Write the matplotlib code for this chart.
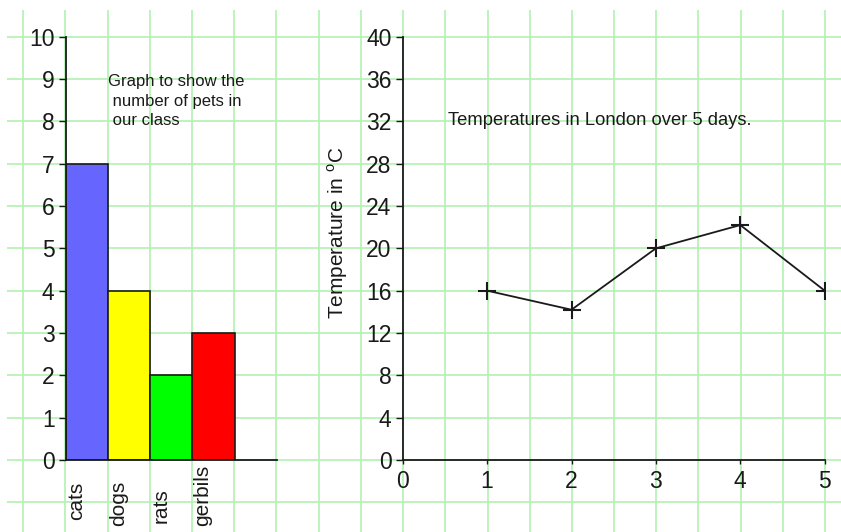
import matplotlib
matplotlib.use('Agg')
import matplotlib.pyplot as plt
import matplotlib.transforms as mtransforms
import numpy as np

plt.rcParams['font.family'] = ['Liberation Sans', 'DejaVu Sans']
plt.rcParams['mathtext.fontset'] = 'custom'
plt.rcParams['mathtext.rm'] = 'Liberation Sans'

# pets chart
pets = ['cats', 'dogs', 'rats', 'gerbils']
pet_counts = [7, 4, 2, 3]
pet_colors = ['#6666ff', '#ffff00', '#00ff00', '#ff0000']
pet_ticks = list(range(0, 11))

# temperature chart
days = [1, 2, 3, 4, 5]
temps = [16, 14.2, 20, 22.2, 16]
temp_ticks = list(range(0, 41, 4))
day_ticks = [0, 1, 2, 3, 4, 5]

W, H = 841, 532
fig = plt.figure(figsize=(W / 100, H / 100), dpi=100)

# squared paper behind everything, in pixel coords
bg = fig.add_axes([0, 0, 1, 1])
bg.set_xlim(0, W)
bg.set_ylim(H, 0)
bg.axis('off')
step_x, step_y = 42.2, 42.33
gx = 23.3 + step_x * np.arange(20)
gy = 36.7 + step_y * np.arange(12)
bg.vlines(gx, 10, H, color='#b2f1b2', lw=1.2)
bg.hlines(gy, 7, W, color='#b2f1b2', lw=1.2)

ink = '#1a1a1a'

def px_axes(x0, x1, y_top, y_bot):
    return fig.add_axes([x0 / W, (H - y_bot) / H, (x1 - x0) / W, (y_bot - y_top) / H])

# ---- left: bar chart
ax1 = px_axes(65.7, 276.7, 36.7, 460)
ax1.set_facecolor('none')
ax1.bar(range(len(pets)), pet_counts, width=1, align='edge', color=pet_colors,
        edgecolor=ink, linewidth=1.2)
ax1.set_xlim(0, 5)
ax1.set_ylim(0, 10)
ax1.set_xticks([])
ax1.set_yticks(pet_ticks)
ax1.tick_params(axis='y', direction='out', length=5, width=1, pad=3,
                labelsize=16.5, colors=ink)
for s in ['top', 'right']:
    ax1.spines[s].set_visible(False)
for s in ['left', 'bottom']:
    ax1.spines[s].set_linewidth(1.3)
    ax1.spines[s].set_color(ink)

tr = mtransforms.blended_transform_factory(ax1.transData, fig.transFigure)
label_bottoms = [12, 6, 9, 6]
for i, name in enumerate(pets):
    ax1.text(i + 0.03, label_bottoms[i] / H, name, transform=tr, rotation=90,
             ha='left', va='bottom', fontsize=15, color=ink)

ax1.text(1.0, 9.12, 'Graph to show the\n number of pets in\n our class',
         ha='left', va='top', fontsize=12, color=ink, linespacing=1.38)

# ---- right: line chart
ax2 = px_axes(402.7, 824.7, 36.7, 460)
ax2.set_facecolor('none')
ax2.plot(days, temps, color=ink, lw=1.3, marker='+', ms=13, mew=1.5)
ax2.set_xlim(0, 5)
ax2.set_ylim(0, 40)
ax2.set_xticks(day_ticks)
ax2.set_yticks(temp_ticks)
ax2.tick_params(axis='y', direction='out', length=5, width=1, pad=3,
                labelsize=16.5, colors=ink)
ax2.tick_params(axis='x', direction='out', length=3, width=1, pad=4,
                labelsize=16.5, colors=ink)
for s in ['top', 'right']:
    ax2.spines[s].set_visible(False)
for s in ['left', 'bottom']:
    ax2.spines[s].set_linewidth(1.3)
    ax2.spines[s].set_color(ink)

ax2.text(-0.153, 0.536, r'Temperature in $^{\mathrm{o}}$C', transform=ax2.transAxes,
         rotation=90, ha='center', va='center', fontsize=15, color=ink)
ax2.text(0.54, 31.65, 'Temperatures in London over 5 days.', ha='left',
         va='baseline', fontsize=13.2, color=ink)

fig.savefig('out.png', dpi=100)
